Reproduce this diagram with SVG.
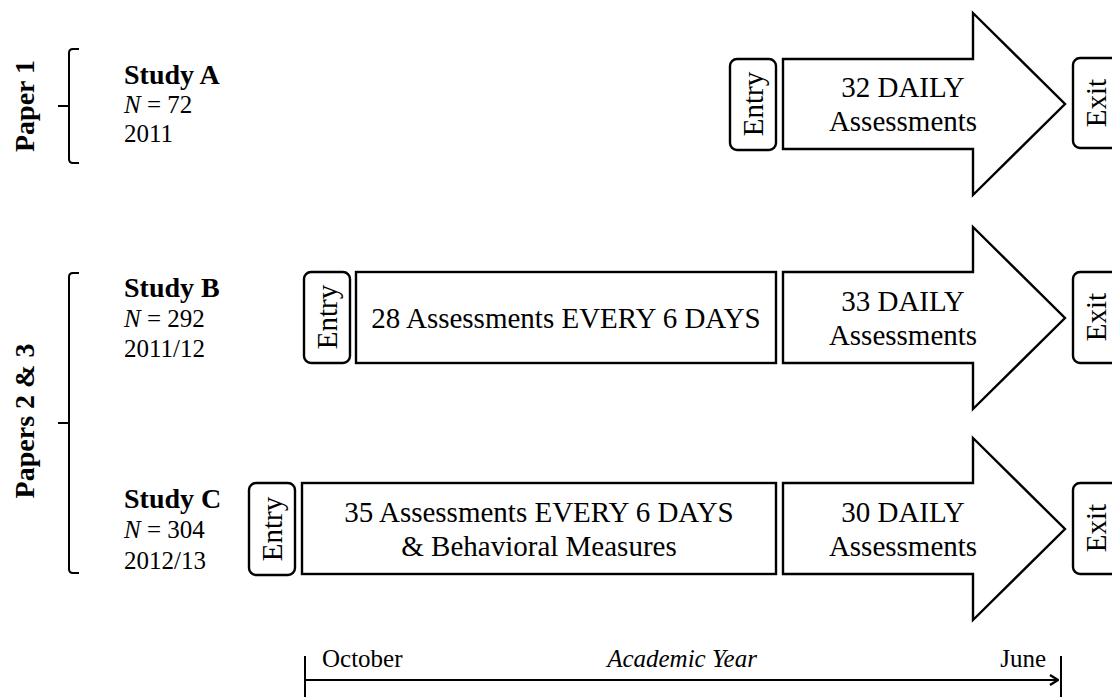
<svg xmlns="http://www.w3.org/2000/svg" width="1112" height="697" viewBox="0 0 1112 697">
<style>
.t{font-family:"Liberation Serif","Times New Roman",serif;fill:#000}
.box{fill:#fff;stroke:#000;stroke-width:2.4}
.ln{fill:none;stroke:#000;stroke-width:2}
.lab{font-size:29px}
.ttl{font-size:28px}
.sm{font-size:25px}
.b{font-weight:bold}
.it{font-style:italic}
.mid{text-anchor:middle}
</style>
<defs>
<marker id="chev" viewBox="0 0 10 12" refX="9" refY="6" markerWidth="10" markerHeight="12" markerUnits="userSpaceOnUse" orient="auto">
<path d="M1,1 L9,6 L1,11" fill="none" stroke="#000" stroke-width="2.4"/>
</marker>
</defs>
<rect width="1112" height="697" fill="#fff"/>

<g id="paper1">
<path class="ln" d="M79,49 H73 Q69,49 69,53 V159 Q69,163 73,163 H79 M58,106 H69"/>
<text class="t ttl b mid" transform="translate(34,106) rotate(-90)">Paper 1</text>
</g>
<g id="papers23">
<path class="ln" d="M79,273 H73 Q69,273 69,277 V569 Q69,573 73,573 H79 M58,423 H69"/>
<text class="t ttl b mid" transform="translate(34,421) rotate(-90)">Papers 2 &amp; 3</text>
</g>

<g id="studyA">
<text class="t ttl b" x="124" y="84">Study A</text>
<text class="t sm" x="124" y="113"><tspan class="it">N</tspan> = 72</text>
<text class="t sm" x="124" y="142">2011</text>
</g>
<g id="studyB">
<text class="t ttl b" x="124" y="297">Study B</text>
<text class="t sm" x="124" y="327"><tspan class="it">N</tspan> = 292</text>
<text class="t sm" x="124" y="357">2011/12</text>
</g>
<g id="studyC">
<text class="t ttl b" x="124" y="508">Study C</text>
<text class="t sm" x="124" y="538"><tspan class="it">N</tspan> = 304</text>
<text class="t sm" x="124" y="569">2012/13</text>
</g>

<g id="rowA">
<g id="entryA"><rect class="box" x="730" y="59" width="46" height="91" rx="7"/>
<text class="t lab mid" transform="translate(763,104) rotate(-90)">Entry</text></g>
<g id="dailyA"><path class="box" d="M783,59 H973 V13 L1065,104 L973,195 V149 H783 Z"/>
<text class="t lab mid" x="903" y="97">32 DAILY</text>
<text class="t lab mid" x="903" y="131">Assessments</text></g>
<g id="exitA"><rect class="box" x="1073" y="58" width="50" height="90" rx="7"/>
<text class="t lab mid" transform="translate(1106,103) rotate(-90)">Exit</text></g>
</g>

<g id="rowB">
<g id="entryB"><rect class="box" x="304" y="272" width="46" height="91" rx="7"/>
<text class="t lab mid" transform="translate(337,317) rotate(-90)">Entry</text></g>
<g id="every6B"><rect class="box" x="356" y="272" width="420" height="91"/>
<text class="t lab mid" x="566" y="328">28 Assessments EVERY 6 DAYS</text></g>
<g id="dailyB"><path class="box" d="M783,272 H973 V227 L1065,318 L973,409 V363 H783 Z"/>
<text class="t lab mid" x="903" y="311">33 DAILY</text>
<text class="t lab mid" x="903" y="345">Assessments</text></g>
<g id="exitB"><rect class="box" x="1073" y="272" width="50" height="91" rx="7"/>
<text class="t lab mid" transform="translate(1106,317) rotate(-90)">Exit</text></g>
</g>

<g id="rowC">
<g id="entryC"><rect class="box" x="249" y="483" width="46" height="92" rx="7"/>
<text class="t lab mid" transform="translate(282,529) rotate(-90)">Entry</text></g>
<g id="every6C"><rect class="box" x="302" y="483" width="474" height="91"/>
<text class="t lab mid" x="539" y="522">35 Assessments EVERY 6 DAYS</text>
<text class="t lab mid" x="539" y="556">&amp; Behavioral Measures</text></g>
<g id="dailyC"><path class="box" d="M783,483 H973 V438 L1065,529 L973,620 V574 H783 Z"/>
<text class="t lab mid" x="903" y="522">30 DAILY</text>
<text class="t lab mid" x="903" y="556">Assessments</text></g>
<g id="exitC"><rect class="box" x="1073" y="483" width="50" height="91" rx="7"/>
<text class="t lab mid" transform="translate(1106,528) rotate(-90)">Exit</text></g>
</g>

<g id="timeline">
<line class="ln" x1="305" y1="656" x2="305" y2="697"/>
<line class="ln" x1="1061" y1="656" x2="1061" y2="697"/>
<text class="t sm" x="322" y="667">October</text>
<text class="t sm it mid" x="682" y="667">Academic Year</text>
<text class="t sm" x="1046" y="667" text-anchor="end">June</text>
</g>
<g id="connectors">
<line class="ln" x1="305" y1="680" x2="1058" y2="680" marker-end="url(#chev)"/>
</g>
</svg>
